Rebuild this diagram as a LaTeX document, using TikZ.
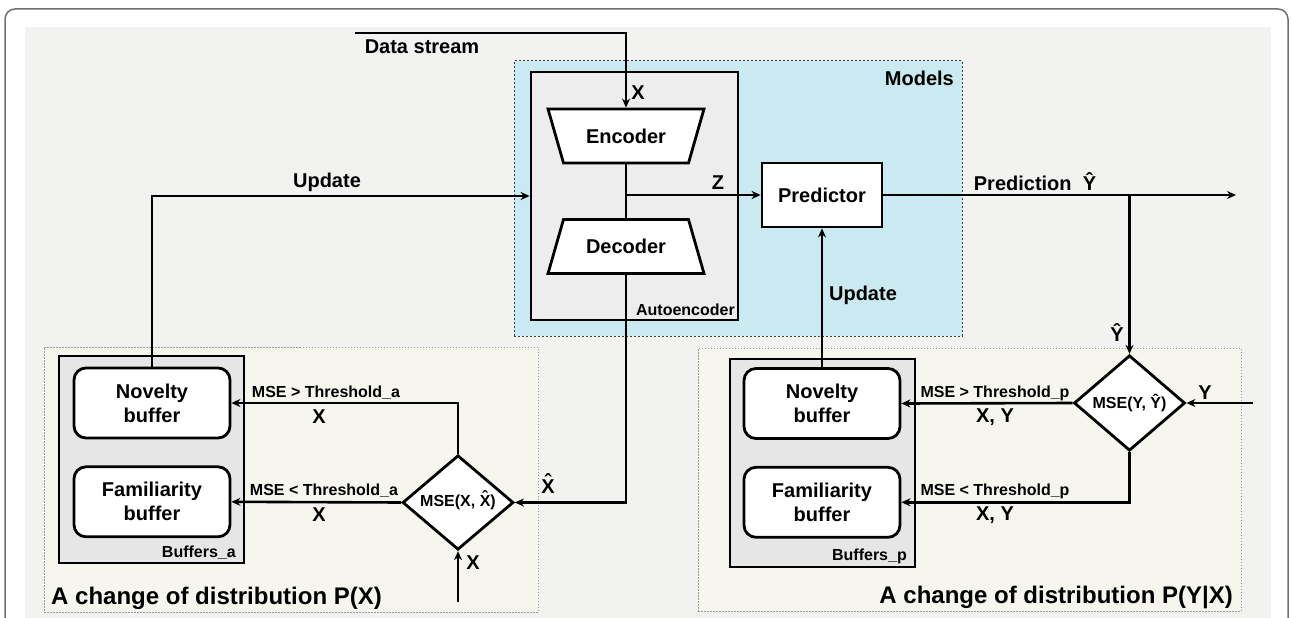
\documentclass[tikz,border=0pt]{standalone}
\usepackage{fontspec}
\setmainfont{Liberation Sans}
\usetikzlibrary{positioning,shapes.geometric,arrows.meta}
\definecolor{bgpanel}{HTML}{F2F2F1}
\definecolor{modelsfill}{HTML}{C8EAF0}
\definecolor{aefill}{HTML}{EDEDED}
\definecolor{buffill}{HTML}{E6E6E6}
\definecolor{regionfill}{HTML}{F6F6EF}
\definecolor{framegray}{HTML}{707070}
\newcommand{\hatted}[1]{\ooalign{#1\cr\hidewidth\raisebox{0.28em}{ˆ}\hidewidth\cr}}
\tikzset{
  txt/.style={inner sep=1pt, font=\fontsize{20}{24}\selectfont\bfseries},
  smalltxt/.style={inner sep=1pt, font=\fontsize{16}{19}\selectfont\bfseries},
  bigtxt/.style={inner sep=1pt, font=\fontsize{24}{28}\selectfont\bfseries},
  coder/.style={trapezium, draw, fill=white, line width=2.8pt, txt,
    trapezium left angle=74, trapezium right angle=74,
    text width=80pt, align=center, text height=14pt, text depth=0pt,
    inner xsep=22.5pt, inner ysep=20pt},
  block/.style={rectangle, draw, fill=white, line width=2.8pt, txt},
  bufnode/.style={block, rounded corners=12pt, align=center, minimum width=156pt, minimum height=70pt},
  check/.style={diamond, draw, fill=white, line width=2.8pt, inner sep=0pt,
    minimum width=111pt, minimum height=80pt, smalltxt},
  region/.style={draw=gray!80, fill=regionfill, line width=1pt, dash pattern=on 1.5pt off 1.5pt},
  group/.style={draw, line width=2.8pt, inner sep=0pt},
  flow/.style={line width=2.6pt, -{Stealth[length=9pt,width=8pt]}},
  plain/.style={line width=2.6pt}
}

\begin{document}
\begin{tikzpicture}[x=1pt,y=-1pt]
\useasboundingbox (0,0) rectangle (1291,618);
\clip (0,0) rectangle (1291,618);
% background
\fill[white] (0,0) rectangle (1291,618);
\draw[framegray, line width=1.5pt, rounded corners=10pt] (5,9) rectangle (1288,660);
\fill[bgpanel] (25,27) rectangle (1271,640);

% groups
\node[region, draw=black!75, fill=modelsfill, dash pattern=on 2pt off 2pt,
      minimum width=448pt, minimum height=275pt] (models) at (738,198.5) {};
\node[region, minimum width=494pt, minimum height=265pt] (regiona) at (291,479.5) {};
\node[region, minimum width=543pt, minimum height=263pt] (regionp) at (969.5,479.5) {};
\node[group, fill=aefill, minimum width=207pt, minimum height=248pt] (ae) at (634.5,196) {};
\node[group, fill=buffill, minimum width=185pt, minimum height=207pt] (bufa) at (151.5,459.5) {};
\node[group, fill=buffill, minimum width=185pt, minimum height=208pt] (bufp) at (822.5,463) {};

\node[txt, anchor=east] (modelslbl) at (955,78) {Models};
\node[smalltxt, anchor=east] (aelbl) at (736,310) {Autoencoder};
\node[smalltxt, anchor=east] (bufalbl) at (237,553) {Buffers\_a};
\node[smalltxt, anchor=east] (bufplbl) at (908,556) {Buffers\_p};
\node[bigtxt, anchor=west] (titlea) at (50,598) {A change of distribution P(X)};
\node[bigtxt, anchor=east] (titlep) at (1234,597) {A change of distribution P(Y|X)};

% models
\node[coder, shape border rotate=180] (enc) at (626,136) {Encoder};
\node[coder] (dec) at (626,246.5) {Decoder};
\node[block, minimum width=120pt, minimum height=64pt] (pred) at (822,195) {Predictor};

% buffers
\node[bufnode] (nova) at (152,403) {Novelty\\buffer};
\node[bufnode, below=26pt of nova] (fama) {Familiarity\\buffer};
\node[bufnode] (novp) at (822,403.5) {Novelty\\buffer};
\node[bufnode, below=26pt of novp] (famp) {Familiarity\\buffer};

% checks
\node[check] (dia) at (458,502.5) {MSE(X, \hatted{X})};
\node[check] (dip) at (1129.5,403) {MSE(Y, Ŷ)};

% data stream and prediction
\coordinate (dsin) at (355,33);
\draw[flow] (dsin) -| (enc.north);
\node[txt] (dslbl) at (422,47) {Data stream};
\node[txt] (xenc) at (638,93) {X};
\draw[plain] (enc.south) -- (dec.north);
\draw[flow] (enc.south |- pred.west) -- (pred.west);
\node[txt] (zlbl) at (718,183) {Z};
\coordinate (predout) at (1236,195);
\draw[flow] (pred.east) -- (predout);
\node[txt] (predlbl) at (1035,182) {Prediction\ \ Ŷ};

% P(Y|X) side
\draw[flow] (dip.north |- pred.east) -- (dip.north);
\node[txt] (yhatlbl) at (1117,333) {Ŷ};
\coordinate (yin) at (1253,403);
\draw[flow] (yin) -- (dip.east);
\node[txt] (ylbl) at (1205,393) {Y};
\draw[flow] (dip.west) -- (novp.east);
\node[smalltxt] (gtp) at (995,393) {MSE > Threshold\_p};
\node[txt] (xyp1) at (995,417) {X, Y};
\draw[flow] (dip.south) |- (famp.east);
\node[smalltxt] (ltp) at (995,491) {MSE < Threshold\_p};
\node[txt] (xyp2) at (995,515) {X, Y};
\draw[flow] (novp.north) -- (pred.south);
\node[txt] (updp) at (863,295) {Update};

% P(X) side
\draw[flow] (nova.north) |- (ae.west);
\node[txt] (upda) at (327,182) {Update};
\draw[flow] (dec.south) |- (dia.east);
\node[txt] (xhatlbl) at (548,487) {\hatted{X}};
\draw[flow] (dia.north) |- (nova.east);
\node[smalltxt] (gta) at (326,393) {MSE > Threshold\_a};
\node[txt] (xa1) at (319,417) {X};
\draw[flow] (dia.west) -- (fama.east);
\node[smalltxt] (lta) at (324,491) {MSE < Threshold\_a};
\node[txt] (xa2) at (319,515) {X};
\coordinate (xin) at (458,602);
\draw[flow] (xin) -- (dia.south);
\node[txt] (xinlbl) at (473,563) {X};
\end{tikzpicture}
\end{document}
